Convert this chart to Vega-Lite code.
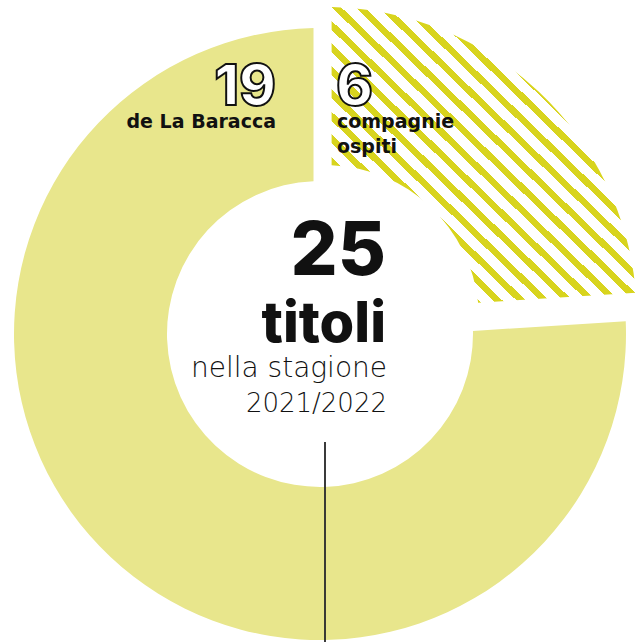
{
  "$schema": "https://vega.github.io/schema/vega-lite/v6.json",
  "width": 636,
  "height": 616,
  "autosize": {"type": "none"},
  "padding": {"left": 2, "top": 26, "right": 0, "bottom": 0},
  "background": "white",
  "view": {"stroke": null},
  "config": {"font": "Inter"},
  "datasets": {
    "parts": [
      {"group": "ospiti", "n": 6, "order": 1, "label": "compagnie\nospiti"},
      {"group": "La Baracca", "n": 19, "order": 2, "label": "de La Baracca"}
    ],
    "center": [
      {"unit": "titoli", "line1": "nella stagione", "line2": "2021/2022"}
    ]
  },
  "data": {"name": "parts"},
  "layer": [
    {
      "transform": [
        {"stack": "n", "groupby": [], "as": ["s0", "s1"], "sort": [{"field": "order", "order": "ascending"}]},
        {"filter": "datum.group == 'La Baracca'"}
      ],
      "mark": {"type": "arc", "innerRadius": 153, "outerRadius": 306, "padAngle": 0.038, "color": "#e8e68c"},
      "encoding": {
        "theta": {"field": "s0", "type": "quantitative", "scale": {"domain": [0, 25], "nice": false, "zero": true}},
        "theta2": {"field": "s1"}
      }
    },
    {
      "transform": [
        {"stack": "n", "groupby": [], "as": ["s0", "s1"], "sort": [{"field": "order", "order": "ascending"}]},
        {"filter": "datum.group == 'ospiti'"}
      ],
      "mark": {
        "type": "arc", "innerRadius": 154, "outerRadius": 312, "padAngle": 0.038, "xOffset": 5, "yOffset": -15,
        "color": {
          "gradient": "linear", "x1": 0, "y1": 1, "x2": 1, "y2": 0,
          "stops": [
            {"offset": 0, "color": "#d8d41e"}, {"offset": 0.0154, "color": "#d8d41e"}, {"offset": 0.0154, "color": "#ffffff"}, {"offset": 0.0385, "color": "#ffffff"},
            {"offset": 0.0385, "color": "#d8d41e"}, {"offset": 0.0538, "color": "#d8d41e"}, {"offset": 0.0538, "color": "#ffffff"}, {"offset": 0.0769, "color": "#ffffff"},
            {"offset": 0.0769, "color": "#d8d41e"}, {"offset": 0.0923, "color": "#d8d41e"}, {"offset": 0.0923, "color": "#ffffff"}, {"offset": 0.1154, "color": "#ffffff"},
            {"offset": 0.1154, "color": "#d8d41e"}, {"offset": 0.1308, "color": "#d8d41e"}, {"offset": 0.1308, "color": "#ffffff"}, {"offset": 0.1538, "color": "#ffffff"},
            {"offset": 0.1538, "color": "#d8d41e"}, {"offset": 0.1692, "color": "#d8d41e"}, {"offset": 0.1692, "color": "#ffffff"}, {"offset": 0.1923, "color": "#ffffff"},
            {"offset": 0.1923, "color": "#d8d41e"}, {"offset": 0.2077, "color": "#d8d41e"}, {"offset": 0.2077, "color": "#ffffff"}, {"offset": 0.2308, "color": "#ffffff"},
            {"offset": 0.2308, "color": "#d8d41e"}, {"offset": 0.2462, "color": "#d8d41e"}, {"offset": 0.2462, "color": "#ffffff"}, {"offset": 0.2692, "color": "#ffffff"},
            {"offset": 0.2692, "color": "#d8d41e"}, {"offset": 0.2846, "color": "#d8d41e"}, {"offset": 0.2846, "color": "#ffffff"}, {"offset": 0.3077, "color": "#ffffff"},
            {"offset": 0.3077, "color": "#d8d41e"}, {"offset": 0.3231, "color": "#d8d41e"}, {"offset": 0.3231, "color": "#ffffff"}, {"offset": 0.3462, "color": "#ffffff"},
            {"offset": 0.3462, "color": "#d8d41e"}, {"offset": 0.3615, "color": "#d8d41e"}, {"offset": 0.3615, "color": "#ffffff"}, {"offset": 0.3846, "color": "#ffffff"},
            {"offset": 0.3846, "color": "#d8d41e"}, {"offset": 0.4, "color": "#d8d41e"}, {"offset": 0.4, "color": "#ffffff"}, {"offset": 0.4231, "color": "#ffffff"},
            {"offset": 0.4231, "color": "#d8d41e"}, {"offset": 0.4385, "color": "#d8d41e"}, {"offset": 0.4385, "color": "#ffffff"}, {"offset": 0.4615, "color": "#ffffff"},
            {"offset": 0.4615, "color": "#d8d41e"}, {"offset": 0.4769, "color": "#d8d41e"}, {"offset": 0.4769, "color": "#ffffff"}, {"offset": 0.5, "color": "#ffffff"},
            {"offset": 0.5, "color": "#d8d41e"}, {"offset": 0.5154, "color": "#d8d41e"}, {"offset": 0.5154, "color": "#ffffff"}, {"offset": 0.5385, "color": "#ffffff"},
            {"offset": 0.5385, "color": "#d8d41e"}, {"offset": 0.5538, "color": "#d8d41e"}, {"offset": 0.5538, "color": "#ffffff"}, {"offset": 0.5769, "color": "#ffffff"},
            {"offset": 0.5769, "color": "#d8d41e"}, {"offset": 0.5923, "color": "#d8d41e"}, {"offset": 0.5923, "color": "#ffffff"}, {"offset": 0.6154, "color": "#ffffff"},
            {"offset": 0.6154, "color": "#d8d41e"}, {"offset": 0.6308, "color": "#d8d41e"}, {"offset": 0.6308, "color": "#ffffff"}, {"offset": 0.6538, "color": "#ffffff"},
            {"offset": 0.6538, "color": "#d8d41e"}, {"offset": 0.6692, "color": "#d8d41e"}, {"offset": 0.6692, "color": "#ffffff"}, {"offset": 0.6923, "color": "#ffffff"},
            {"offset": 0.6923, "color": "#d8d41e"}, {"offset": 0.7077, "color": "#d8d41e"}, {"offset": 0.7077, "color": "#ffffff"}, {"offset": 0.7308, "color": "#ffffff"},
            {"offset": 0.7308, "color": "#d8d41e"}, {"offset": 0.7462, "color": "#d8d41e"}, {"offset": 0.7462, "color": "#ffffff"}, {"offset": 0.7692, "color": "#ffffff"},
            {"offset": 0.7692, "color": "#d8d41e"}, {"offset": 0.7846, "color": "#d8d41e"}, {"offset": 0.7846, "color": "#ffffff"}, {"offset": 0.8077, "color": "#ffffff"},
            {"offset": 0.8077, "color": "#d8d41e"}, {"offset": 0.8231, "color": "#d8d41e"}, {"offset": 0.8231, "color": "#ffffff"}, {"offset": 0.8462, "color": "#ffffff"},
            {"offset": 0.8462, "color": "#d8d41e"}, {"offset": 0.8615, "color": "#d8d41e"}, {"offset": 0.8615, "color": "#ffffff"}, {"offset": 0.8846, "color": "#ffffff"},
            {"offset": 0.8846, "color": "#d8d41e"}, {"offset": 0.9, "color": "#d8d41e"}, {"offset": 0.9, "color": "#ffffff"}, {"offset": 0.9231, "color": "#ffffff"},
            {"offset": 0.9231, "color": "#d8d41e"}, {"offset": 0.9385, "color": "#d8d41e"}, {"offset": 0.9385, "color": "#ffffff"}, {"offset": 0.9615, "color": "#ffffff"},
            {"offset": 0.9615, "color": "#d8d41e"}, {"offset": 0.9769, "color": "#d8d41e"}, {"offset": 0.9769, "color": "#ffffff"}, {"offset": 1, "color": "#ffffff"}
          ]
        }
      },
      "encoding": {
        "theta": {"field": "s0", "type": "quantitative", "scale": {"domain": [0, 25], "nice": false, "zero": true}},
        "theta2": {"field": "s1"}
      }
    },
    {
      "mark": {"type": "rule", "color": "#333333", "strokeWidth": 1.6},
      "encoding": {
        "x": {"value": {"expr": "width/2+5"}},
        "y": {"value": {"expr": "height/2+108"}},
        "y2": {"value": {"expr": "height"}}
      }
    },
    {
      "transform": [{"aggregate": [{"op": "sum", "field": "n", "as": "total"}]}],
      "mark": {"type": "text", "align": "right", "baseline": "alphabetic", "dx": 66, "dy": -59, "fontSize": 74, "fontWeight": 800, "color": "#111111"},
      "encoding": {"text": {"field": "total", "type": "quantitative"}}
    },
    {
      "data": {"name": "center"},
      "mark": {"type": "text", "align": "right", "baseline": "alphabetic", "dx": 66, "dy": 8, "fontSize": 56, "fontWeight": 800, "color": "#111111"},
      "encoding": {"text": {"field": "unit", "type": "nominal"}}
    },
    {
      "data": {"name": "center"},
      "mark": {"type": "text", "align": "right", "baseline": "alphabetic", "dx": 67, "dy": 43, "font": "DejaVu Sans", "fontSize": 28, "fontWeight": 200, "color": "#111111"},
      "encoding": {"text": {"field": "line1", "type": "nominal"}}
    },
    {
      "data": {"name": "center"},
      "mark": {"type": "text", "align": "right", "baseline": "alphabetic", "dx": 67, "dy": 78, "font": "DejaVu Sans", "fontSize": 26, "fontWeight": 200, "color": "#111111"},
      "encoding": {"text": {"field": "line2", "type": "nominal"}}
    },
    {
      "transform": [{"filter": "datum.group == 'La Baracca'"}],
      "mark": {"type": "text", "align": "right", "baseline": "alphabetic", "dx": -44, "dy": -229, "fontSize": 56, "fontWeight": 800, "fill": "white", "stroke": "#111111", "strokeWidth": 2},
      "encoding": {"text": {"field": "n", "type": "quantitative"}}
    },
    {
      "transform": [{"filter": "datum.group == 'La Baracca'"}],
      "mark": {"type": "text", "align": "right", "baseline": "alphabetic", "dx": -44, "dy": -206, "font": "DejaVu Sans", "fontSize": 19, "fontWeight": 700, "color": "#111111"},
      "encoding": {"text": {"field": "label", "type": "nominal"}}
    },
    {
      "transform": [{"filter": "datum.group == 'ospiti'"}],
      "mark": {"type": "text", "align": "left", "baseline": "alphabetic", "dx": 16, "dy": -229, "fontSize": 56, "fontWeight": 800, "fill": "white", "stroke": "#111111", "strokeWidth": 2},
      "encoding": {"text": {"field": "n", "type": "quantitative"}}
    },
    {
      "transform": [{"filter": "datum.group == 'ospiti'"}],
      "mark": {"type": "text", "align": "left", "baseline": "alphabetic", "dx": 17, "dy": -206, "font": "DejaVu Sans", "fontSize": 19, "fontWeight": 700, "lineBreak": "\n", "lineHeight": 25, "color": "#111111"},
      "encoding": {"text": {"field": "label", "type": "nominal"}}
    }
  ]
}
